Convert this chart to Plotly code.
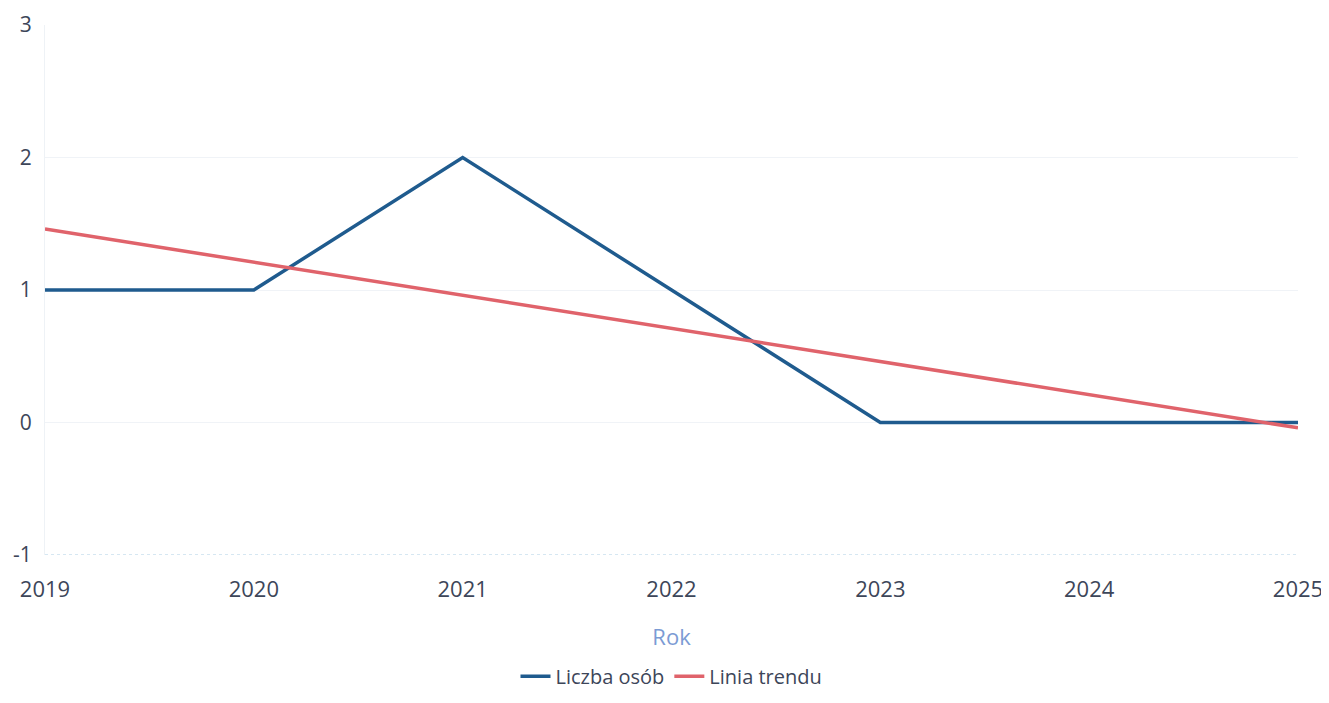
import plotly.graph_objects as go

years = [2019, 2020, 2021, 2022, 2023, 2024, 2025]
liczba_osob = [1, 1, 2, 1, 0, 0, 0]
linia_trendu = [1.46, 1.21, 0.96, 0.71, 0.46, 0.21, -0.04]
y_ticks = [-1, 0, 1, 2, 3]
y_tick_labels = ["-1", "0", "1", "2", "3"]

fig = go.Figure()
fig.add_trace(go.Scatter(x=years, y=liczba_osob, mode="lines", name="Liczba osób",
                         line=dict(color="#1f5b8e", width=3.5)))
fig.add_trace(go.Scatter(x=years, y=linia_trendu, mode="lines", name="Linia trendu",
                         line=dict(color="#e0636b", width=3.5)))

fig.update_layout(
    width=1321, height=687,
    margin=dict(l=37, r=31, t=17, b=140, autoexpand=False),
    paper_bgcolor="white", plot_bgcolor="white",
    font=dict(family="Open Sans", color="#3d4659", size=21),
    xaxis=dict(range=[2019, 2025], tickvals=years, showgrid=False, zeroline=False,
               showline=False, ticks="outside", ticklen=15, tickcolor="rgba(0,0,0,0)",
               tickfont=dict(size=22), automargin=False, ticklabeloverflow="allow",
               title=dict(text="Rok", font=dict(color="#7b9bd4", size=22), standoff=27)),
    yaxis=dict(range=[-1, 3], tickvals=y_ticks, ticktext=y_tick_labels,
               showgrid=True, gridcolor="#f0f3f7",
               zeroline=False, showline=True, linecolor="#eef2f6",
               ticks="outside", ticklen=8, tickcolor="rgba(0,0,0,0)",
               tickfont=dict(size=21), automargin=False, ticklabeloverflow="allow"),
    legend=dict(orientation="h", x=0.5, xanchor="center", y=-0.192, yanchor="top",
                font=dict(size=20), itemwidth=30, tracegroupgap=0),
    showlegend=True,
)
fig.add_shape(type="line", xref="paper", yref="y", x0=0, x1=1, y0=-1, y1=-1,
              line=dict(color="#c9e0ee", width=1.5, dash="dot"))

fig.write_html("out.html")
